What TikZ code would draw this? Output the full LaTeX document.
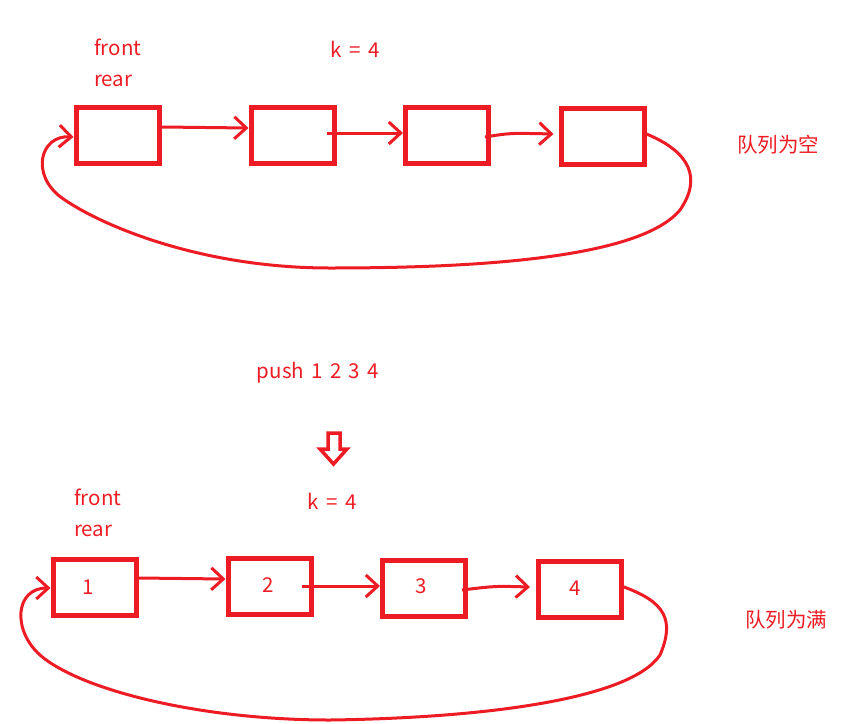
\documentclass[tikz,border=0pt]{standalone}
\usepackage{fontspec}
\setmainfont{Noto Sans CJK SC}
\usetikzlibrary{arrows.meta, positioning}
\definecolor{penred}{RGB}{237,28,36}
\newcommand\notefont{\fontsize{20.5}{24}\selectfont\spaceskip=7.4pt plus 2pt minus 1pt\relax}

\begin{document}
\begin{tikzpicture}[
  x=1pt, y=-1pt,
  cell/.style={draw=penred, line width=5pt, minimum width=83pt, minimum height=56pt, inner sep=0pt},
  note/.style={text=penred, font=\notefont, inner sep=0pt},
  arrow/.style={-{Straight Barb[length=12pt, width=22pt]}, penred, line width=3pt},
  loop/.style={arrow, line cap=round}
]
\useasboundingbox (0,0) rectangle (851,723);

% empty queue
\node[note, anchor=west] (front1) at (94,47) {front};
\node[note, anchor=west] (rear1) at (94,81) {rear};
\node[note] (k1) at (355,49) {k = 4};
\node[cell] (a1) at (117.5,135) {};
\node[cell] (b1) at (292.5,135) {};
\node[cell] (c1) at (447,135) {};
\node[cell] (d1) at (602.5,136.5) {};
\node[note] (empty) at (778,145) {队列为空};

\draw[arrow] (a1.east |- 0,127) -- (b1.west |- 0,128);
\draw[arrow] ([xshift=-10pt]b1.east |- 0,133) -- (c1.west |- 0,133);
\draw[arrow] ([xshift=-6pt]c1.east |- 0,137) .. controls (510,133) .. ([xshift=-5pt]d1.west |- 0,134);
\draw[loop] (d1.east |- 0,134) .. controls (690,152) and (702,178) .. (680,210)
  .. controls (640,258) and (480,268) .. (330,268)
  .. controls (200,268) and (100,225) .. (62,198)
  .. controls (30,175) and (40,135) .. (a1.west |- 0,137);

% push
\node[note] (push) at (318,373) {push 1 2 3 4};
\draw[penred, line width=3.5pt, line join=miter] (328,433) -- (340,433) -- (340,449) -- (347,449)
  -- (333.5,464) -- (320,449) -- (328,449) -- cycle;

% full queue
\node[note, anchor=west] (front2) at (74,497) {front};
\node[note, anchor=west] (rear2) at (74,531) {rear};
\node[note] (k2) at (332,501) {k = 4};
\node[cell] (a2) at (94.5,587) {};
\node[cell] (b2) at (269.5,586.5) {};
\node[cell] (c2) at (424,588) {};
\node[cell] (d2) at (580,589) {};
\node[note] at (88,587) {1};
\node[note] at (268,585) {2};
\node[note] at (421,586) {3};
\node[note] at (575,588) {4};
\node[note] (full) at (786,620) {队列为满};

\draw[arrow] (a2.east |- 0,578) -- (b2.west |- 0,579);
\draw[arrow] ([xshift=-12pt]b2.east |- 0,586) -- (c2.west |- 0,586);
\draw[arrow] ([xshift=-6pt]c2.east |- 0,590) .. controls (495,586) .. ([xshift=-6pt]d2.west |- 0,587);
\draw[loop] (d2.east |- 0,587) .. controls (665,602) and (675,620) .. (660,655)
  .. controls (630,700) and (480,718) .. (330,720)
  .. controls (200,720) and (80,690) .. (40,655)
  .. controls (12,630) and (15,588) .. (a2.west |- 0,588);
\end{tikzpicture}
\end{document}
